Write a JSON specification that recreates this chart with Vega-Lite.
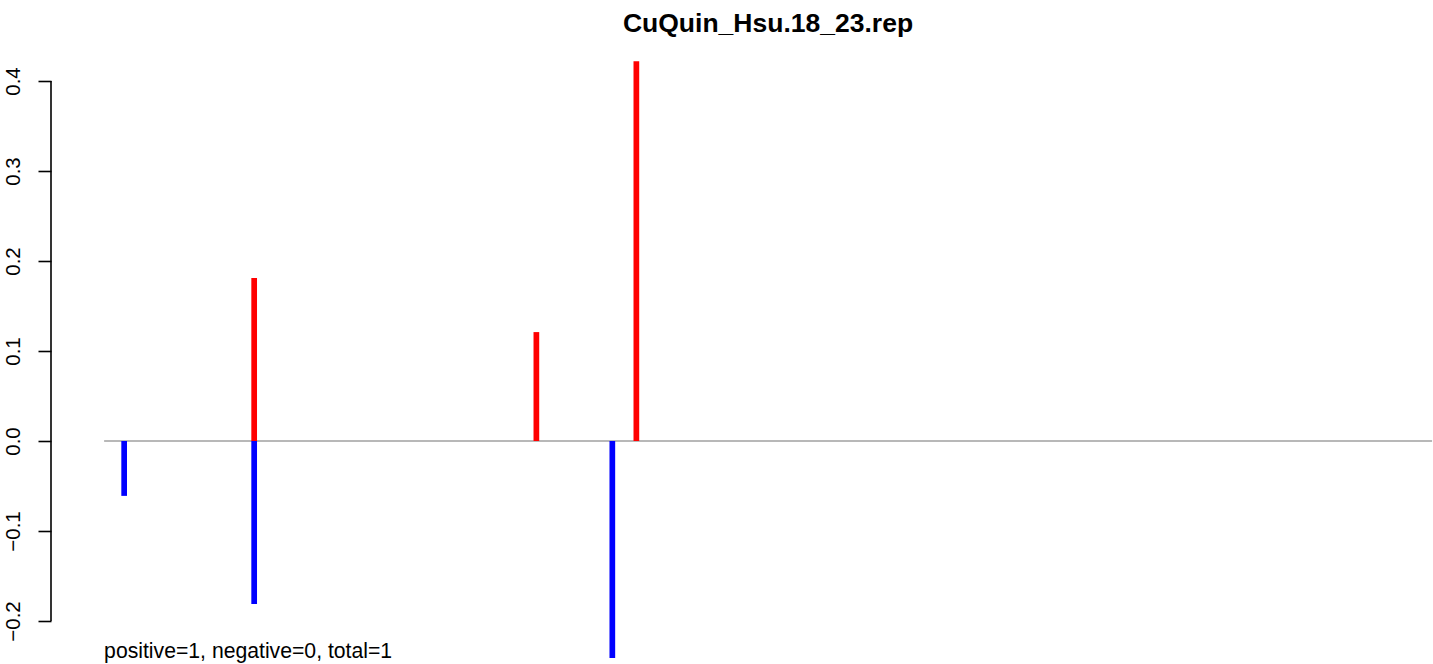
{
  "$schema": "https://vega.github.io/schema/vega-lite/v6.json",
  "autosize": {"type": "none"},
  "padding": {"left": 51, "top": 0, "right": 0, "bottom": 0},
  "width": 1382,
  "height": 664,
  "background": "white",
  "title": {
    "text": "CuQuin_Hsu.18_23.rep",
    "font": "Liberation Sans",
    "fontSize": 26.5,
    "fontWeight": "bold",
    "color": "black",
    "anchor": "middle",
    "baseline": "alphabetic",
    "offset": 0,
    "dx": 26,
    "dy": 58
  },
  "config": {
    "view": {"stroke": null},
    "font": "Liberation Sans"
  },
  "datasets": {
    "bars": [
      {"pos": 1.51, "value": -0.061, "sign": "negative"},
      {"pos": 11.30, "value": 0.181, "sign": "positive"},
      {"pos": 11.30, "value": -0.181, "sign": "negative"},
      {"pos": 32.55, "value": 0.121, "sign": "positive"},
      {"pos": 38.27, "value": -0.241, "sign": "negative"},
      {"pos": 40.08, "value": 0.422, "sign": "positive"}
    ],
    "one": [{"note": "positive=1, negative=0, total=1"}]
  },
  "layer": [
    {
      "data": {"name": "one"},
      "mark": {"type": "rule", "color": "black", "strokeWidth": 1.6},
      "encoding": {
        "x": {"datum": -4, "type": "quantitative", "scale": {"domain": [-4, 100.07], "nice": false, "zero": false}, "axis": null},
        "y": {"datum": -0.2, "type": "quantitative", "scale": {"domain": [-0.2478, 0.49], "nice": false, "zero": false},
          "axis": {
            "values": [-0.2, -0.1, 0, 0.1, 0.2, 0.3, 0.4],
            "format": ".1f",
            "domain": false,
            "grid": false,
            "title": null,
            "ticks": true,
            "tickSize": 13,
            "tickWidth": 1.6,
            "tickColor": "black",
            "labelFont": "Liberation Sans",
            "labelFontSize": 20.5,
            "labelColor": "black",
            "labelAngle": 270,
            "labelAlign": "center",
            "labelBaseline": "alphabetic",
            "labelPadding": 18.5,
            "labelOverlap": false,
            "labelFlush": false
          }},
        "y2": {"datum": 0.4}
      }
    },
    {
      "data": {"name": "one"},
      "mark": {"type": "rule", "color": "#a0a0a0", "strokeWidth": 1.4},
      "encoding": {
        "x": {"datum": 0, "type": "quantitative"},
        "x2": {"datum": 100},
        "y": {"datum": 0, "type": "quantitative"}
      }
    },
    {
      "data": {"name": "bars"},
      "mark": {"type": "rule", "strokeWidth": 5.7, "strokeCap": "butt"},
      "encoding": {
        "x": {"field": "pos", "type": "quantitative"},
        "y": {"field": "value", "type": "quantitative"},
        "y2": {"datum": 0},
        "color": {"field": "sign", "type": "nominal", "scale": {"domain": ["negative", "positive"], "range": ["#0000FF", "#FF0000"]}, "legend": null}
      }
    },
    {
      "data": {"name": "one"},
      "mark": {"type": "text", "align": "left", "baseline": "alphabetic", "font": "Liberation Sans", "fontSize": 21.2, "color": "black"},
      "encoding": {
        "text": {"field": "note"},
        "x": {"datum": 0, "type": "quantitative"},
        "y": {"datum": -0.2414, "type": "quantitative"}
      }
    }
  ]
}
